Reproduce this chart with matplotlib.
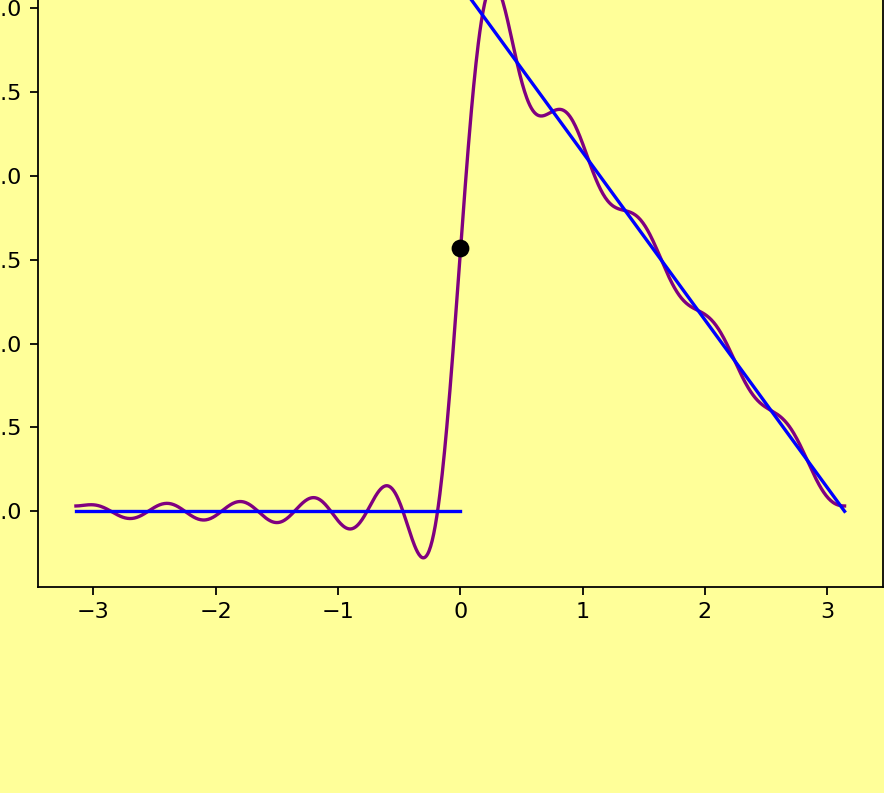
import numpy as np
import matplotlib
matplotlib.use("Agg")
import matplotlib.pyplot as plt

# Fourier partial sum of f(x) = 0 on (-pi, 0), pi - x on (0, pi)
constant_term = 0.7854
harmonics = [1, 2, 3, 4, 5, 6, 7, 8, 9, 10]
cos_coef = [0.6366, 0.0, 0.0707, 0.0, 0.0255, 0.0, 0.0130, 0.0, 0.0079, 0.0]
sin_coef = [1.0, 0.5, 0.3333, 0.25, 0.2, 0.1667, 0.1429, 0.125, 0.1111, 0.1]

# Target function pieces
left_x = [-np.pi, 0.0]
left_y = [0.0, 0.0]
right_x = [0.0, np.pi]
right_y = [np.pi, 0.0]

# Midpoint value at the jump
jump_x = [0.0]
jump_y = [np.pi / 2]

bg = "#ffff99"
dpi = 160
fig = plt.figure(figsize=(884 / dpi, 793 / dpi), dpi=dpi, facecolor=bg)
ax = fig.add_axes([0.1, 0.1, 0.8, 0.8], facecolor=bg)

x = np.linspace(-np.pi, np.pi, 1000)
s = np.full_like(x, constant_term)
for n, a, b in zip(harmonics, cos_coef, sin_coef):
    s += a * np.cos(n * x) + b * np.sin(n * x)

ax.plot(x, s, color="purple", lw=1.5)
ax.plot(left_x, left_y, color="blue", lw=1.5)
ax.plot(right_x, right_y, color="blue", lw=1.5)
ax.plot(jump_x, jump_y, "o", color="black", ms=7)

# Place the axes so the y scale runs at a fixed pixel size per unit
W, H = 884, 793
y0, y1 = ax.get_ylim()
px_per_unit = 167.67
bottom_px = 586.5
left_px, right_px = 37.5, 883.0
h_px = (y1 - y0) * px_per_unit
ax.set_position([left_px / W, (H - bottom_px) / H,
                 (right_px - left_px) / W, h_px / H])

fig.savefig("out.png", dpi=dpi, facecolor=bg)
